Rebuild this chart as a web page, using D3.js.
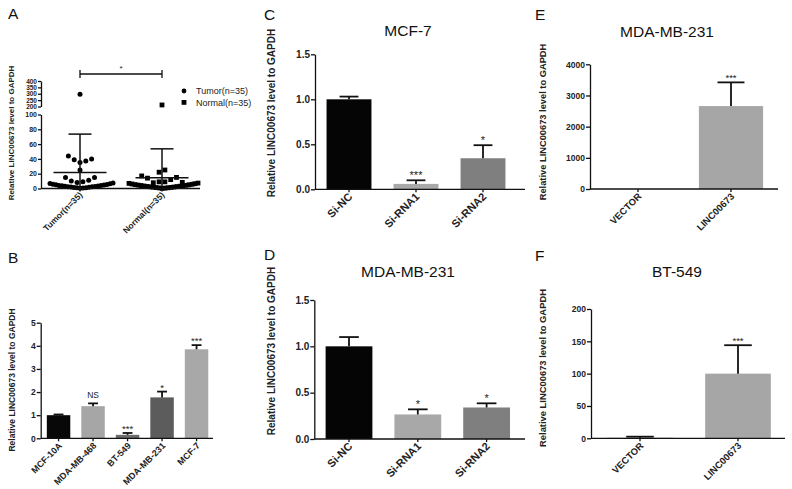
<!DOCTYPE html>
<html>
<head>
<meta charset="utf-8"/>
<script src="https://d3js.org/d3.v7.min.js"></script>
<style>
  body { margin: 0; padding: 0; background: #fff; }
  svg { display: block; font-family: "Liberation Sans", Arial, sans-serif; }
  .tick line, .domain { stroke: #111; stroke-width: 1.3px; }
  .tick text { fill: #222; font-weight: bold; }
</style>
</head>
<body>
<svg id="fig" width="792" height="489"></svg>
<script>
// ---- Panel A: scatter, tumor vs normal (values in display order) ----
const groupsA = ["Tumor(n=35)", "Normal(n=35)"];
const tumorValues = [0.3, 0.6, 0.9, 1.1, 1.4, 1.7, 2.0, 2.2, 2.5, 2.8, 3.0, 3.3, 3.6, 3.9, 4.2, 4.6,
  5.0, 5.4, 5.9, 6.3, 6.8, 7.4, 15, 10, 8, 9, 11, 15, 25, 44, 39, 35, 37, 40, 296];
const normalValues = [0.2, 0.5, 0.8, 1.0, 1.3, 1.5, 1.8, 2.0, 2.3, 2.6, 2.8, 3.1, 3.4, 3.7, 4.0, 4.3,
  4.6, 5.0, 5.3, 5.7, 6.1, 6.5, 6.9, 7.3, 17, 14, 7.8, 9, 9, 12, 15, 8.3, 22, 25, 212];
const groupMeans = [21.5, 14.6];
const groupSDs = [52, 39];
const lowTicksA = [0, 20, 40, 60, 80, 100];
const highTicksA = [200, 250, 300, 350, 400];

// ---- Panel B: cell lines ----
const cellLines = ["MCF-10A", "MDA-MB-468", "BT-549", "MDA-MB-231", "MCF-7"];
const cellLineValues = [1.0, 1.39, 0.15, 1.77, 3.85];
const cellLineErrors = [0.03, 0.12, 0.08, 0.25, 0.18];
const cellLineMarks = ["", "NS", "***", "*", "***"];
const cellLineTicks = [0, 1, 2, 3, 4, 5];

// ---- Panels C, D: knockdown ----
const siGroups = ["Si-NC", "Si-RNA1", "Si-RNA2"];
const mcf7Values = [1.0, 0.06, 0.345];
const mcf7Errors = [0.03, 0.04, 0.145];
const mcf7Marks = ["", "***", "*"];
const mda231SiValues = [1.0, 0.265, 0.34];
const mda231SiErrors = [0.1, 0.055, 0.045];
const mda231SiMarks = ["", "*", "*"];
const siTicks = [0, 0.5, 1.0, 1.5];

// ---- Panels E, F: overexpression ----
const overGroups = ["VECTOR", "LINC00673"];
const mda231OverValues = [1, 2660];
const mda231OverErrors = [0, 760];
const mda231OverTicks = [0, 1000, 2000, 3000, 4000];
const bt549OverValues = [1, 100];
const bt549OverErrors = [1.5, 44];
const bt549OverTicks = [0, 50, 100, 150, 200];
const overMarks = ["", "***"];

const yLabel = "Relative LINC00673 level to GAPDH";
const svg = d3.select("#fig");
svg.append("rect").attr("width", 792).attr("height", 489).attr("fill", "#fff");

function letter(t, x, y) {
  svg.append("text").attr("x", x).attr("y", y).attr("font-size", 15.5).attr("fill", "#111").text(t);
}
function title(t, x, y) {
  svg.append("text").attr("x", x).attr("y", y).attr("font-size", 15.5).attr("fill", "#111")
    .attr("text-anchor", "middle").text(t);
}
function ylab(x, cy, size) {
  svg.append("text").attr("transform", `translate(${x},${cy}) rotate(-90)`)
    .attr("text-anchor", "middle").attr("dominant-baseline", "middle")
    .attr("font-size", size).attr("font-weight", "bold").attr("fill", "#222").text(yLabel);
}

// generic bar panel
function barPanel(c) {
  const g = svg.append("g");
  const x = d3.scaleBand().domain(c.cats).range(c.xRange)
    .paddingInner(c.pad).paddingOuter(c.pad / 2);
  const y = d3.scaleLinear().domain([0, c.ticks[c.ticks.length - 1]]).range([c.y0, c.yTop]);
  const rows = c.cats.map((k, i) => ({k, v: c.values[i], e: c.errors[i], m: c.marks[i], col: c.colors[i]}));

  g.selectAll("rect.bar").data(rows).join("rect")
    .attr("x", d => x(d.k)).attr("width", x.bandwidth())
    .attr("y", d => y(d.v)).attr("height", d => c.y0 - y(d.v))
    .attr("fill", d => d.col);

  const cx = d => x(d.k) + x.bandwidth() / 2;
  const cw = x.bandwidth() * 0.21;
  const eb = rows.filter(d => d.e > 0);
  g.selectAll("line.err").data(eb).join("line")
    .attr("x1", cx).attr("x2", cx).attr("y1", d => y(d.v)).attr("y2", d => y(d.v + d.e))
    .attr("stroke", "#111").attr("stroke-width", 1.8);
  g.selectAll("line.cap").data(eb).join("line")
    .attr("x1", d => cx(d) - cw).attr("x2", d => cx(d) + cw)
    .attr("y1", d => y(d.v + d.e)).attr("y2", d => y(d.v + d.e))
    .attr("stroke", "#111").attr("stroke-width", 1.8);
  g.selectAll("text.mark").data(rows.filter(d => d.m)).join("text")
    .attr("x", cx).attr("y", d => y(d.v + d.e) - (d.m === "NS" ? 5 : 1))
    .attr("text-anchor", "middle").attr("font-size", d => d.m === "NS" ? c.tickSize : c.tickSize + 1)
    .attr("fill", "#222").text(d => d.m);

  const ya = g.append("g").attr("transform", `translate(${c.axisX},0)`)
    .call(d3.axisLeft(y).tickValues(c.ticks).tickFormat(c.fmt).tickSize(4).tickSizeOuter(0));
  ya.selectAll("text").attr("font-size", c.tickSize).attr("x", -5);

  const xa = g.append("g").attr("transform", `translate(0,${c.y0})`)
    .call(d3.axisBottom(x).tickSize(3).tickSizeOuter(0));
  xa.select(".domain").remove();
  xa.selectAll("text").attr("x", 0).attr("y", 0).attr("dy", 0)
    .attr("transform", "translate(4,8) rotate(-45)").style("text-anchor", "end")
    .attr("font-size", c.xSize);
  g.append("line").attr("x1", c.axisX).attr("x2", c.xEnd).attr("y1", c.y0).attr("y2", c.y0)
    .attr("stroke", "#111").attr("stroke-width", 1.3);
}

// ---- Panel A ----
(function () {
  const axisX = 41, y0 = 188.5;
  const x = d3.scaleBand().domain(groupsA).range([39, 203]).paddingInner(0.35).paddingOuter(0.175);
  const yLow = d3.scaleLinear().domain([0, 100]).range([y0, 114.5]);
  const yHigh = d3.scaleLinear().domain([200, 400]).range([106.5, 81]);
  const yv = v => v > 100 ? yHigh(v) : yLow(v);
  const g = svg.append("g");

  // scatter-dot layout: values grouped in rows, each row spread sideways
  const rowBins = d3.bin().domain([0, 400]).thresholds([7.5, 18, 30, 50, 150]);
  function spread(vals, cx) {
    const out = [];
    rowBins(vals).forEach((b, bi) => {
      if (bi === 0) {
        b.slice().sort((p, q) => p - q).forEach((v, j) => {
          out.push({x: cx + (j % 2 ? 1 : -1) * Math.ceil(j / 2) * 3, y: yv(v)});
        });
      } else {
        b.forEach((v, j) => out.push({x: cx + (j - (b.length - 1) / 2) * 5.8, y: yv(v)}));
      }
    });
    return out;
  }
  const cT = x(groupsA[0]) + x.bandwidth() / 2;
  const cN = x(groupsA[1]) + x.bandwidth() / 2;
  g.selectAll("circle.t").data(spread(tumorValues, cT)).join("circle")
    .attr("cx", d => d.x).attr("cy", d => d.y).attr("r", 2.5).attr("fill", "#000");
  g.selectAll("rect.n").data(spread(normalValues, cN)).join("rect")
    .attr("x", d => d.x - 2.4).attr("y", d => d.y - 2.4).attr("width", 4.8).attr("height", 4.8)
    .attr("fill", "#000");

  // mean and SD
  const stats = groupsA.map((k, i) => ({k, m: groupMeans[i], s: groupSDs[i]}));
  const c = d => x(d.k) + x.bandwidth() / 2;
  g.selectAll("line.mean").data(stats).join("line")
    .attr("x1", d => c(d) - 26.5).attr("x2", d => c(d) + 26.5)
    .attr("y1", d => yLow(d.m)).attr("y2", d => yLow(d.m)).attr("stroke", "#111").attr("stroke-width", 1.5);
  g.selectAll("line.sd").data(stats).join("line")
    .attr("x1", c).attr("x2", c).attr("y1", d => yLow(Math.max(0, d.m - d.s))).attr("y2", d => yLow(d.m + d.s))
    .attr("stroke", "#111").attr("stroke-width", 1.5);
  g.selectAll("line.cap").data(stats).join("line")
    .attr("x1", d => c(d) - 11.5).attr("x2", d => c(d) + 11.5)
    .attr("y1", d => yLow(d.m + d.s)).attr("y2", d => yLow(d.m + d.s)).attr("stroke", "#111").attr("stroke-width", 1.5);

  // axes
  const lo = g.append("g").attr("transform", `translate(${axisX},0)`)
    .call(d3.axisLeft(yLow).tickValues(lowTicksA).tickSize(3).tickSizeOuter(0));
  lo.selectAll("text").attr("font-size", 7).attr("x", -4);
  const hi = g.append("g").attr("transform", `translate(${axisX},0)`)
    .call(d3.axisLeft(yHigh).tickValues(highTicksA).tickSize(3).tickSizeOuter(0));
  hi.selectAll("text").attr("font-size", 6.5).attr("x", -4);
  const xa = g.append("g").attr("transform", `translate(0,${y0})`)
    .call(d3.axisBottom(x).tickSize(3).tickSizeOuter(0));
  xa.select(".domain").remove();
  xa.selectAll("text").attr("x", 0).attr("y", 0).attr("dy", 0)
    .attr("transform", "translate(3,7) rotate(-45)").style("text-anchor", "end").attr("font-size", 8.5);
  g.append("line").attr("x1", axisX).attr("x2", 200).attr("y1", y0).attr("y2", y0)
    .attr("stroke", "#111").attr("stroke-width", 1.3);

  // significance bracket
  g.append("path").attr("d", `M${cT},70V78M${cT},74H${cN}M${cN},70V78`)
    .attr("stroke", "#111").attr("stroke-width", 1.3).attr("fill", "none");
  g.append("text").attr("x", (cT + cN) / 2).attr("y", 71).attr("text-anchor", "middle")
    .attr("font-size", 8).attr("fill", "#222").text("*");

  // legend
  const lg = g.append("g").attr("font-size", 9).attr("fill", "#222");
  lg.append("circle").attr("cx", 184).attr("cy", 91).attr("r", 2.4).attr("fill", "#000");
  lg.append("text").attr("x", 196).attr("y", 94).text(groupsA[0]);
  lg.append("rect").attr("x", 181.6).attr("y", 100).attr("width", 4.8).attr("height", 4.8).attr("fill", "#000");
  lg.append("text").attr("x", 196).attr("y", 105.5).text(groupsA[1]);
})();
letter("A", 8, 19);
ylab(12, 133, 8);

// ---- Panel B ----
barPanel({cats: cellLines, values: cellLineValues, errors: cellLineErrors, marks: cellLineMarks,
  colors: ["#080808", "#a6a6a6", "#6c6c6c", "#5c5c5c", "#a8a8a8"],
  ticks: cellLineTicks, fmt: d3.format("d"), axisX: 40.7, y0: 438.3, yTop: 322.7,
  xRange: [41.3, 213.8], pad: 0.32, xEnd: 213, tickSize: 8.5, xSize: 9});
letter("B", 8, 263);
ylab(12.5, 380, 8.5);

// ---- Panel C ----
barPanel({cats: siGroups, values: mcf7Values, errors: mcf7Errors, marks: mcf7Marks,
  colors: ["#050505", "#a8a8a8", "#7f7f7f"],
  ticks: siTicks, fmt: d3.format(".1f"), axisX: 315, y0: 189.3, yTop: 54.3,
  xRange: [315.5, 516.5], pad: 0.33, xEnd: 525, tickSize: 10, xSize: 11});
letter("C", 264, 20);
title("MCF-7", 408, 36);
ylab(272.5, 113, 10);

// ---- Panel D ----
barPanel({cats: siGroups, values: mda231SiValues, errors: mda231SiErrors, marks: mda231SiMarks,
  colors: ["#050505", "#a8a8a8", "#7f7f7f"],
  ticks: siTicks, fmt: d3.format(".1f"), axisX: 314.3, y0: 439, yTop: 300,
  xRange: [314.6, 521], pad: 0.32, xEnd: 525, tickSize: 10, xSize: 11});
letter("D", 264, 260);
title("MDA-MB-231", 408, 277);
ylab(272, 351, 10);

// ---- Panel E ----
barPanel({cats: overGroups, values: mda231OverValues, errors: mda231OverErrors, marks: overMarks,
  colors: ["#a6a6a6", "#a6a6a6"],
  ticks: mda231OverTicks, fmt: d3.format("d"), axisX: 590, y0: 189, yTop: 64.3,
  xRange: [591.5, 777.5], pad: 0.31, xEnd: 778, tickSize: 8.5, xSize: 9.5});
letter("E", 535, 20);
title("MDA-MB-231", 667, 37);
ylab(543.5, 122, 9.3);

// ---- Panel F ----
barPanel({cats: overGroups, values: bt549OverValues, errors: bt549OverErrors, marks: overMarks,
  colors: ["#b4b4b4", "#a6a6a6"],
  ticks: bt549OverTicks, fmt: d3.format("d"), axisX: 591, y0: 438.3, yTop: 309,
  xRange: [591, 787], pad: 0.33, xEnd: 785, tickSize: 8.5, xSize: 9.5});
letter("F", 535, 261);
title("BT-549", 677, 277);
ylab(544, 368, 9.4);
</script>
</body>
</html>
